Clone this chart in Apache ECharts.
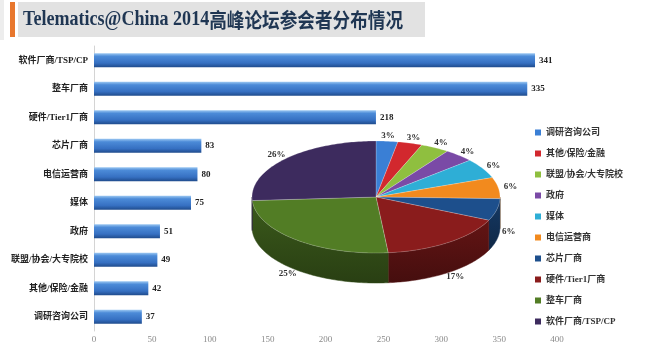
<!DOCTYPE html>
<html>
<head>
<meta charset="utf-8">
<script src="https://cdn.jsdelivr.net/npm/echarts@6/dist/echarts.min.js"></script>
<style>html,body{margin:0;padding:0;background:#fff;}#main{width:660px;height:358px;}</style>
</head>
<body>
<div id="main"></div>
<script>
// ---- data ----
var categories = ['软件厂商/TSP/CP','整车厂商','硬件/Tier1厂商','芯片厂商','电信运营商','媒体','政府','联盟/协会/大专院校','其他/保险/金融','调研咨询公司'];
var barValues = [341, 335, 218, 83, 80, 75, 51, 49, 42, 37];
var xTicks = [0, 50, 100, 150, 200, 250, 300, 350, 400];
var pieNames = ['调研咨询公司','其他/保险/金融','联盟/协会/大专院校','政府','媒体','电信运营商','芯片厂商','硬件/Tier1厂商','整车厂商','软件厂商/TSP/CP'];
var pieValues = [37, 42, 49, 51, 75, 80, 83, 218, 335, 341];
var pieLabels = ['3%','3%','4%','4%','6%','6%','6%','17%','25%','26%'];
var titleLatin = 'Telematics@China 2014';
var titleCJK = '高峰论坛参会者分布情况';

// ---- styles ----
var pieColors = ['#3a7fd5','#d2282e','#8fbf3f','#7a4aa6','#2eaed6','#f28a1e','#1d4f8c','#8a1c1c','#527d25','#3d2b5e'];
var FONT = '"Liberation Serif", "Noto Sans CJK SC", serif';
var P = {cx: 376, cy: 197, rx: 124, ry: 56, depth: 30};

function darken(hex, f) {
  var n = parseInt(hex.slice(1), 16);
  var r = Math.round(((n >> 16) & 255) * f), g = Math.round(((n >> 8) & 255) * f), b = Math.round((n & 255) * f);
  return 'rgb(' + r + ',' + g + ',' + b + ')';
}
var total = pieValues.reduce(function (a, b) { return a + b; }, 0);
var cum = [0];
pieValues.forEach(function (v, i) { cum.push(cum[i] + v); });
function pt(t, dy) { return [P.cx + P.rx * Math.sin(t), P.cy - P.ry * Math.cos(t) + (dy || 0)]; }
function arc(a, b, dy) {
  var pts = [], n = Math.max(2, Math.ceil((b - a) / 0.02));
  for (var i = 0; i <= n; i++) pts.push(pt(a + (b - a) * i / n, dy));
  return pts;
}

function renderPie(params, api) {
  var i = params.dataIndex;
  var a = cum[i] / total * 2 * Math.PI, b = cum[i + 1] / total * 2 * Math.PI;
  var col = pieColors[i];
  var children = [];
  // side wall (front half only)
  var sa = Math.max(a, Math.PI / 2), sb = Math.min(b, 3 * Math.PI / 2);
  if (sb > sa) {
    var top = arc(sa, sb, 0), bot = arc(sa, sb, P.depth).reverse();
    children.push({
      type: 'polygon', z2: 1,
      shape: {points: top.concat(bot)},
      style: {fill: {type: 'linear', x: 0, y: 0, x2: 0, y2: 1, colorStops: [
        {offset: 0, color: darken(col, 0.72)}, {offset: 1, color: darken(col, 0.5)}]}, stroke: darken(col, 0.6), lineWidth: 0.5}
    });
  }
  // top face
  var face = [[P.cx, P.cy]].concat(arc(a, b, 0));
  children.push({
    type: 'polygon', z2: 5,
    shape: {points: face},
    style: {fill: col, stroke: 'rgba(255,255,255,0.35)', lineWidth: 0.6}
  });
  // label
  var m = (a + b) / 2;
  var c = Math.cos(m);
  var lx = P.cx + P.rx * 1.1 * Math.sin(m);
  var ly = P.cy - P.ry * 1.1 * c + (c < 0 ? P.depth * Math.min(1, -c * 3) : 0);
  children.push({
    type: 'text', z2: 10,
    style: {text: pieLabels[i], x: lx, y: ly, align: 'center', verticalAlign: 'middle',
      fill: '#333', font: 'bold 9px ' + FONT}
  });
  return {type: 'group', children: children};
}

var chart = echarts.init(document.getElementById('main'), null, {renderer: 'canvas'});
chart.setOption({
  backgroundColor: '#fff',
  animation: false,
  graphic: [
    {type: 'rect', left: 0, top: 0, shape: {width: 4, height: 40}, style: {fill: '#ededed'}},
    {type: 'rect', left: 18, top: 2, shape: {width: 407, height: 35}, style: {fill: '#e2e2e2'}},
    {type: 'rect', left: 10, top: 2, shape: {width: 5, height: 35}, style: {fill: '#e8772e'}},
    {type: 'text', x: 23, y: 20, scaleX: 0.86, scaleY: 1,
      style: {text: '{a|' + titleLatin + '}{b|' + titleCJK + '}', verticalAlign: 'middle',
        rich: {
          a: {fontFamily: '"Liberation Serif", serif', fontWeight: 'bold', fontSize: 21, fill: '#1f3653', color: '#1f3653'},
          b: {fontFamily: '"Noto Sans CJK SC", sans-serif', fontWeight: 'bold', fontSize: 20.5, fill: '#1f3653', color: '#1f3653'}
        }}}
  ],
  legend: {
    orient: 'vertical', left: 530, top: 122,
    itemWidth: 6, itemHeight: 6, itemGap: 10, icon: 'rect',
    data: pieNames,
    textStyle: {fontFamily: FONT, fontWeight: 'bold', fontSize: 9, lineHeight: 11, color: '#333'},
    selectedMode: false
  },
  grid: {left: 94, right: 103, top: 46, bottom: 27, containLabel: false},
  xAxis: [
    {type: 'value', min: xTicks[0], max: xTicks[xTicks.length - 1], interval: xTicks[1] - xTicks[0],
      axisLine: {show: false}, axisTick: {show: false}, splitLine: {show: false},
      axisLabel: {color: '#8a8a8a', fontFamily: FONT, fontSize: 9, margin: 4}},
    {type: 'value', min: 0, max: 358, show: false, splitLine: {show: false}}
  ],
  yAxis: {
    type: 'category', inverse: true, data: categories,
    axisLine: {show: true, lineStyle: {color: '#d4d4d4'}},
    axisTick: {show: false},
    axisLabel: {color: '#222', fontFamily: FONT, fontWeight: 'bold', fontSize: 9, margin: 6}
  },
  series: [
    {
      type: 'bar', xAxisIndex: 1, data: barValues, barWidth: 14,
      itemStyle: {color: {type: 'linear', x: 0, y: 0, x2: 0, y2: 1, colorStops: [
        {offset: 0, color: '#9cc8f2'}, {offset: 0.22, color: '#4c8bd8'},
        {offset: 0.7, color: '#3670c2'}, {offset: 1, color: '#1f4b8c'}]}},
      label: {show: true, position: 'right', distance: 4, color: '#222',
        fontFamily: FONT, fontWeight: 'bold', fontSize: 9}
    },
    {
      type: 'custom', coordinateSystem: 'none', silent: true,
      data: pieValues.map(function (v, i) { return {name: pieNames[i], value: v}; }),
      renderItem: renderPie, z: 5
    },
    {
      type: 'pie', center: [-200, -200], radius: [0, 1], silent: true,
      label: {show: false}, labelLine: {show: false},
      data: pieValues.map(function (v, i) { return {name: pieNames[i], value: v, itemStyle: {color: pieColors[i]}}; })
    }
  ]
});
</script>
</body>
</html>
